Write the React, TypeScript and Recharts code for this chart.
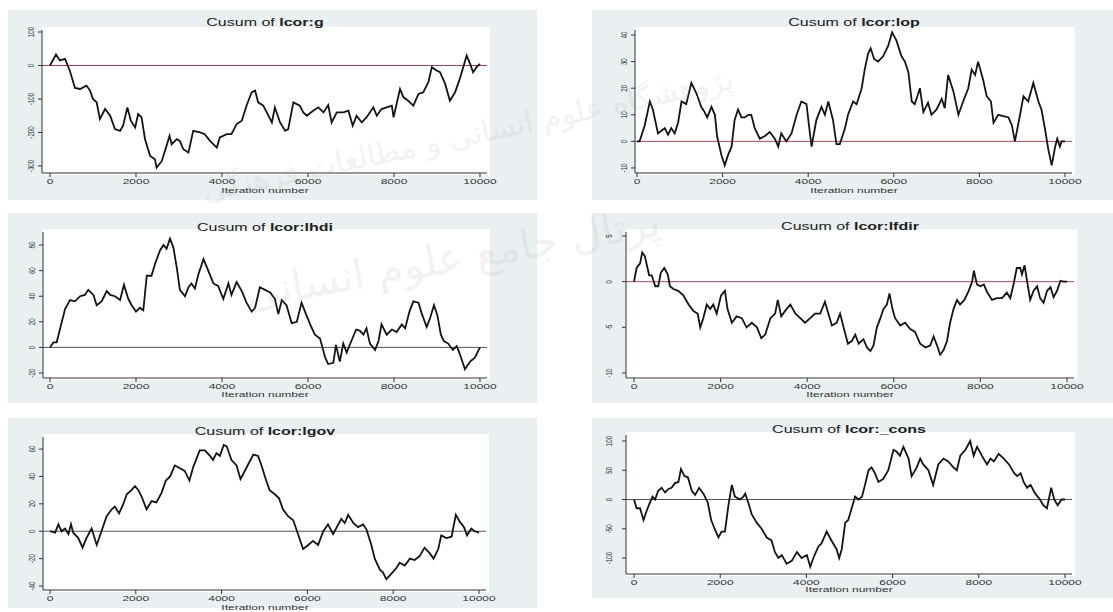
import React from "react";
import { Line, LineChart, ReferenceLine, XAxis, YAxis } from "recharts";

// iteration numbers and cusum values
const gIter = [0,140,230,350,465,580,700,850,930,1000,1085,1160,1280,1400,1510,1630,1700,1800,1880,1980,2050,2130,2210,2330,2440,2480,2600,2710,2780,2830,2950,3020,3100,3220,3330,3490,3600,3720,3880,3950,4110,4220,4340,4460,4570,4690,4770,4840,4960,5040,5160,5230,5350,5470,5540,5660,5810,5890,5970,6120,6240,6360,6470,6550,6670,6820,6940,7040,7130,7250,7360,7520,7600,7710,7830,7950,7990,8060,8140,8220,8330,8450,8570,8680,8800,8880,8990,9070,9190,9300,9420,9530,9690,9770,9840,9920,10000];
const gVal = [0,33,15,20,-17,-67,-70,-60,-75,-100,-110,-160,-130,-150,-190,-195,-180,-125,-165,-185,-145,-155,-220,-270,-280,-305,-285,-240,-210,-235,-220,-225,-250,-260,-195,-200,-205,-225,-245,-215,-205,-205,-175,-165,-120,-80,-75,-110,-120,-140,-170,-125,-170,-195,-190,-110,-120,-140,-150,-135,-125,-140,-118,-170,-140,-140,-135,-180,-150,-170,-155,-125,-150,-130,-125,-120,-155,-115,-70,-95,-105,-120,-85,-80,-50,-5,-15,-20,-55,-105,-80,-40,30,5,-20,-5,5];
const gTicks = [-300, -200, -100, 0, 100];

const lopIter = [0,60,180,300,370,490,570,650,725,800,880,960,1040,1150,1270,1390,1500,1580,1640,1740,1820,1870,1970,2050,2130,2210,2280,2360,2440,2520,2600,2670,2750,2870,2990,3100,3220,3300,3370,3490,3610,3730,3840,3960,4040,4080,4190,4310,4390,4470,4580,4660,4740,4860,4930,5050,5130,5250,5320,5400,5460,5540,5630,5750,5870,5960,6060,6180,6260,6340,6420,6490,6610,6690,6800,6880,7000,7120,7190,7270,7390,7510,7620,7740,7820,7900,7970,8090,8170,8270,8330,8440,8560,8680,8760,8830,8950,9030,9140,9260,9380,9450,9530,9610,9690,9770,9820,9880,9920,10000];
const lopVal = [0,0,6,15,12,3,4,5,2.5,5,3,7,15,14,22,18,13,11,9,13,10,2,-5,-9,-5,-2,8,12,9,9,10,10,5,1,2,3.5,1,-2,3,0,3,10,15,14,3,-2,8,13,10,15,8,-1,-1,5,10,15,14,20,27,33,35,31,30,32,36,41,38,32,30,26,15,14,20,11,14.5,10,12,16,12.5,25,19,10,15,20,27,25,30,23,17,15,7,10,9.5,9,6,0,10,17,15,22,15,12,5,-3,-9,-2,1,-2,0,0];
const lopTicks = [-10, 0, 10, 20, 30, 40];

const lhdiIter = [0,80,155,230,350,465,580,700,810,890,1010,1085,1200,1320,1400,1510,1630,1720,1820,1900,2000,2090,2170,2250,2360,2440,2560,2640,2710,2790,2870,2950,3020,3140,3220,3290,3370,3450,3570,3680,3800,3910,4030,4150,4220,4340,4460,4570,4690,4770,4880,5000,5120,5230,5310,5390,5500,5620,5740,5850,5930,6050,6160,6280,6400,6470,6590,6650,6740,6820,6900,7020,7120,7210,7290,7360,7440,7560,7640,7710,7830,7950,8060,8180,8260,8360,8450,8570,8640,8760,8840,8930,9010,9090,9160,9260,9370,9460,9530,9650,9770,9880,10000];
const lhdiVal = [0,4,4,14,30,37,36,40,41,45,41,33,36,44,41,40,37,49,38,33,28,31,29,56,56,65,76,80,77,85,78,62,45,40,47,50,46,57,69,60,50,48,38,50,41,51,44,35,28,31,47,45,43,38,26,37,33,19,20,35,28,18,10,7,-8,-13,-12,2,-11,3,-4,6,14,13,10,15,3,-2,5,18,10,14,12,18,15,28,36,35,27,16,23,33,25,10,5,3,-2,1,-5,-17,-11,-8,0];
const lhdiTicks = [-20, 0, 20, 40, 60, 80];

const lfdirIter = [0,60,140,190,250,350,410,490,560,620,700,780,830,910,1020,1140,1260,1370,1470,1530,1600,1680,1760,1830,1910,2010,2100,2160,2260,2370,2490,2600,2720,2840,2940,3030,3150,3260,3320,3400,3490,3610,3730,3840,3950,4070,4180,4300,4410,4490,4570,4680,4760,4840,4940,5030,5110,5190,5300,5380,5460,5530,5610,5690,5760,5840,5900,5970,6030,6150,6260,6380,6490,6610,6730,6840,6920,7000,7070,7150,7230,7300,7380,7460,7530,7630,7730,7810,7850,7920,8000,8080,8150,8270,8380,8500,8610,8690,8770,8840,8920,8960,9020,9080,9150,9230,9310,9380,9460,9540,9620,9690,9770,9850,9920,10000];
const lfdirVal = [0,1.5,2,3.2,2.8,0.7,0.7,-0.5,-0.5,1,1.5,0.8,-0.5,-0.8,-1,-1.5,-2.5,-3.2,-3.5,-5,-4,-2.5,-3,-2.5,-3.5,-1.5,-1,-3,-4.5,-3.8,-4,-5,-4.5,-5,-6.2,-5.8,-4,-3.5,-2,-3.8,-3.2,-2.5,-3.5,-4,-4.5,-4,-3.5,-3.5,-2.2,-3.5,-4.8,-4.5,-3.5,-5,-6.8,-6.5,-5.8,-6.8,-6.3,-7.2,-7.6,-7,-5,-4,-3,-2.5,-1.3,-3,-4,-4.8,-4.5,-5.2,-5.5,-6.8,-7.2,-7,-6,-7,-8,-7.5,-6.5,-4.5,-3,-2,-2.5,-2,-1,0,1.2,-0.3,-0.5,-0.3,-1.1,-2,-1.8,-1.8,-1.2,-1.8,-0.2,1.5,1.5,0.8,1.8,0,-2,-1,-0.5,-1.8,-2.3,-1,-0.6,-1.7,-1,0.1,0,0];
const lfdirTicks = [-10, -5, 0, 5];

const lgovIter = [0,120,195,270,350,430,490,540,660,760,850,970,1090,1200,1320,1440,1510,1610,1710,1790,1900,1980,2060,2140,2250,2370,2480,2600,2700,2800,2910,3030,3140,3250,3340,3490,3610,3730,3800,3880,3960,4050,4120,4230,4350,4440,4540,4640,4740,4850,4930,5050,5120,5240,5340,5430,5550,5670,5780,5900,6020,6130,6250,6370,6480,6600,6720,6790,6870,6950,7070,7180,7300,7380,7490,7570,7690,7760,7840,7960,8070,8150,8270,8390,8500,8620,8730,8850,8940,9050,9120,9240,9360,9460,9550,9650,9720,9820,9900,10000];
const lgovVal = [0,-1,5,0,2,-2,5,-1,-5,-12,-5,2,-10,0,11,16,18,13,20,27,30,33,30,25,16,22,21,28,37,40,48,46,44,37,47,59,59,55,52,57,55,63,62,52,48,38,44,50,56,55,48,36,30,27,24,16,11,8,-2,-13,-10,-7,-10,0,5,-2,5,9,6,12,6,3,5,1,-10,-20,-28,-30,-35,-31,-27,-23,-25,-20,-21,-18,-12,-16,-20,-13,-3,-5,-4,12,7,3,-3,2,0,-1];
const lgovTicks = [-40, -20, 0, 20, 40, 60];

const consIter = [0,60,140,220,290,370,430,490,560,640,720,800,870,950,1030,1090,1170,1250,1340,1420,1510,1610,1710,1790,1870,1960,2030,2110,2190,2270,2340,2460,2540,2580,2650,2730,2850,2960,3080,3190,3270,3350,3430,3540,3660,3780,3890,4010,4090,4160,4280,4350,4470,4580,4700,4760,4820,4900,4970,5050,5130,5210,5290,5360,5440,5510,5590,5670,5780,5900,6020,6090,6170,6250,6370,6440,6560,6640,6710,6830,6940,7060,7180,7290,7410,7490,7570,7690,7800,7880,7960,8070,8190,8270,8350,8460,8580,8700,8820,8890,8970,9040,9120,9200,9310,9420,9500,9580,9680,9750,9830,9920,10000];
const consVal = [0,-15,-15,-35,-20,-5,5,0,15,20,12,18,20,28,30,52,40,38,15,8,20,10,-5,-35,-50,-65,-55,-55,-10,25,5,0,5,10,-5,-25,-40,-50,-65,-70,-90,-100,-95,-110,-105,-90,-100,-95,-115,-100,-80,-75,-55,-70,-85,-100,-85,-40,-35,-15,5,0,5,25,50,55,45,30,35,50,85,82,75,90,70,40,55,70,60,50,25,60,70,65,55,50,75,85,100,75,90,75,60,70,65,78,70,60,45,40,45,30,20,25,10,0,-10,-15,20,0,-10,0,0];
const consTicks = [-100, -50, 0, 50, 100];

const xTicks = [0, 2000, 4000, 6000, 8000, 10000];

const FONT = "'Liberation Sans', Arial, Helvetica, sans-serif";
const BG = "#eaf0f1";
const XAXIS_H = 16;
const YAXIS_W = 24;
const STRETCH = 1.6; // the source image is widened, so its lettering is too

const panels = [
  { name: "lcor:g", iter: gIter, val: gVal, ticks: gTicks, bg: [8, 10, 529, 190], plot: [42, 30, 487, 173], xDomain: [-186, 10163], yDomain: [-321, 106], zero: "#8e4650", labelGap: 4.5, titleY: 23, axisLabelY: 191 },
  { name: "lcor:lop", iter: lopIter, val: lopVal, ticks: lopTicks, bg: [592, 10, 521, 190], plot: [635, 30, 1072, 173], xDomain: [-47, 10164], yDomain: [-11.9, 41.9], zero: "#a04a58", labelGap: 4.5, titleY: 23, axisLabelY: 191 },
  { name: "lcor:lhdi", iter: lhdiIter, val: lhdiVal, ticks: lhdiTicks, bg: [8, 213, 529, 190], plot: [43, 232, 487, 378], xDomain: [-163, 10163], yDomain: [-23.9, 90.2], zero: "#555", labelGap: 4.5, titleY: 228, axisLabelY: 395 },
  { name: "lcor:lfdir", iter: lfdirIter, val: lfdirVal, ticks: lfdirTicks, bg: [592, 213, 521, 190], plot: [626, 232, 1074, 378], xDomain: [-185, 10162], yDomain: [-10.55, 5.44], zero: "#a04a58", labelGap: 10.5, titleY: 227, axisLabelY: 395 },
  { name: "lcor:lgov", iter: lgovIter, val: lgovVal, ticks: lgovTicks, bg: [8, 418, 529, 190], plot: [43, 437, 486, 590], xDomain: [-163, 10163], yDomain: [-42.9, 68.8], zero: "#555", labelGap: 4.5, titleY: 432, axisLabelY: 607.5 },
  { name: "lcor:_cons", iter: consIter, val: consVal, ticks: consTicks, bg: [592, 418, 521, 180], plot: [626, 435, 1072, 574], xDomain: [-186, 10162], yDomain: [-127.4, 110.3], zero: "#555", labelGap: 10.5, titleY: 430, axisLabelY: 590 },
];

function YTick(props: any) {
  const { x, y, payload } = props;
  return (
    <text
      transform={`translate(${x}, ${y}) scale(${STRETCH}, 1) rotate(-90)`}
      textAnchor="middle"
      fontSize={6.2}
      fontFamily={FONT}
      fill="#333"
    >
      {payload.value}
    </text>
  );
}

function XTick(props: any) {
  const { x, y, payload } = props;
  return (
    <text
      transform={`translate(${x}, ${y}) scale(${STRETCH}, 1)`}
      textAnchor="middle"
      dy="0.71em"
      fontSize={7.5}
      fontFamily={FONT}
      fill="#333"
    >
      {payload.value}
    </text>
  );
}

function Panel({ p }: { p: any }) {
  const [bx, by, bw, bh] = p.bg;
  const [pl, pt, pr, pb] = p.plot;
  const rows = p.iter.map((it: number, i: number) => ({ iter: it, v: p.val[i] }));
  const margin = {
    left: pl - bx - YAXIS_W,
    top: pt - by,
    right: bx + bw - pr,
    bottom: by + bh - pb - XAXIS_H,
  };
  const cx = (pl + pr) / 2;
  return (
    <>
      <div style={{ position: "absolute", left: bx, top: by, width: bw, height: bh, background: BG }} />
      <div style={{ position: "absolute", left: pl, top: pt - 3, width: pr - pl + 3, height: pb - pt + 5, background: "#fff" }} />
      <div
        style={{
          position: "absolute", left: cx - 150, width: 300, top: p.titleY - 7, lineHeight: "14px",
          textAlign: "center", fontSize: 10, fontFamily: FONT, color: "#222",
          transform: `scaleX(${STRETCH})`, transformOrigin: "center",
        }}
      >
        Cusum of <b>{p.name}</b>
      </div>
      <div style={{ position: "absolute", left: bx, top: by }}>
        <LineChart width={bw} height={bh} data={rows} margin={margin}>
          <XAxis
            type="number"
            dataKey="iter"
            domain={p.xDomain}
            ticks={xTicks}
            interval={0}
            allowDataOverflow
            height={XAXIS_H}
            tickSize={4}
            tickMargin={1.2}
            stroke="#333"
            tick={<XTick />}
          />
          <YAxis
            type="number"
            domain={p.yDomain}
            ticks={p.ticks}
            interval={0}
            allowDataOverflow
            width={YAXIS_W}
            tickSize={4}
            tickMargin={p.labelGap}
            stroke="#333"
            tick={<YTick />}
          />
          <ReferenceLine y={0} stroke={p.zero} strokeWidth={1} />
          <Line
            type="linear"
            dataKey="v"
            stroke="#141414"
            strokeWidth={1.8}
            dot={false}
            isAnimationActive={false}
          />
        </LineChart>
      </div>
      <div
        style={{
          position: "absolute", left: cx - 100, width: 200, top: p.axisLabelY - 5, lineHeight: "10px",
          textAlign: "center", fontSize: 7.5, fontFamily: FONT, color: "#333",
          transform: `scaleX(${STRETCH})`, transformOrigin: "center",
        }}
      >
        Iteration number
      </div>
    </>
  );
}

export default function App() {
  return (
    <div style={{ position: "absolute", left: 0, top: 0, width: 1113, height: 612, background: "#fff", overflow: "hidden" }}>
      {panels.map((p) => (
        <Panel key={p.name} p={p} />
      ))}
      <svg width={1113} height={612} style={{ position: "absolute", left: 0, top: 0, pointerEvents: "none" }}>
        <text x={470} y={145} transform="rotate(-12, 470, 145)" textAnchor="middle" fontSize={30} fontFamily="'DejaVu Sans'" fill="#999" opacity={0.12}>
          پژوهشگاه علوم انسانی و مطالعات فرهنگی
        </text>
        <text x={455} y={272} transform="rotate(-10, 455, 272)" textAnchor="middle" fontSize={42} fontFamily="'DejaVu Sans'" fill="#999" opacity={0.12}>
          پرتال جامع علوم انسانی
        </text>
      </svg>
    </div>
  );
}
